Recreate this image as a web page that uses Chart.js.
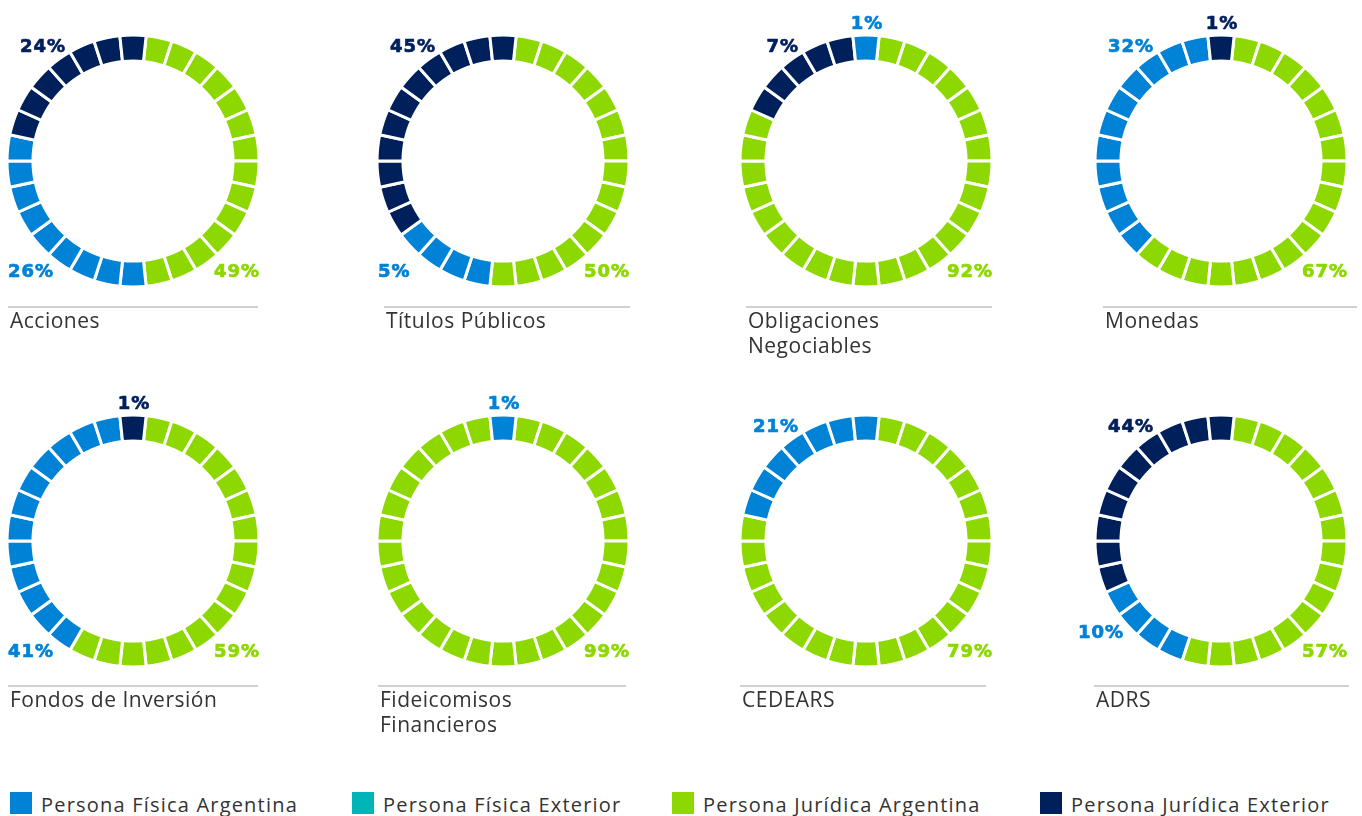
<!DOCTYPE html>
<html lang="es">
<head>
<meta charset="utf-8">
<title>Participación por tipo de inversor</title>
<script src="https://cdn.jsdelivr.net/npm/chart.js@4.4.1/dist/chart.umd.min.js"></script>
<style>
  html, body { margin: 0; padding: 0; background: #fff; }
  body {
    width: 1362px; height: 816px; position: relative; overflow: hidden;
    font-family: "Open Sans", sans-serif; color: #333;
  }
  .anillo { position: absolute; width: 320px; height: 320px; }
  .titulo {
    position: absolute; border-top: 2px solid #d0d0d0;
    font-size: 21px; line-height: 25px; letter-spacing: 0.5px;
    white-space: pre-line; padding-left: 2px;
  }
  .leyenda {
    position: absolute; top: 792px; height: 22px;
    font-size: 20px; line-height: 26px; letter-spacing: 1.2px; white-space: nowrap;
  }
  .leyenda i { position: absolute; left: 0; top: 0; width: 22px; height: 22px; }
</style>
</head>
<body>
<script>
"use strict";

// Datos (% de participación por tipo de inversor)
const categorias = [
  "Acciones", "Títulos Públicos", "Obligaciones\nNegociables", "Monedas",
  "Fondos de Inversión", "Fideicomisos\nFinancieros", "CEDEARS", "ADRS",
];
const series = [
  "Persona Física Argentina", "Persona Física Exterior",
  "Persona Jurídica Argentina", "Persona Jurídica Exterior",
];
const pctFisicaArg   = [26, 5, 1, 32, 41, 1, 21, 10];
const pctFisicaExt   = [0, 0, 0, 0, 0, 0, 0, 0];
const pctJuridicaArg = [49, 50, 92, 67, 59, 99, 79, 57];
const pctJuridicaExt = [24, 45, 7, 1, 1, 0, 0, 44];

// Segmentos (de 30) que pinta cada serie en el anillo
const TOTAL_SEGMENTOS = 30;
const segFisicaArg   = [9, 4, 1, 11, 12, 1, 7, 4];
const segFisicaExt   = [0, 0, 0, 0, 0, 0, 0, 0];
const segJuridicaArg = [14, 15, 24, 18, 17, 29, 23, 16];
const segJuridicaExt = [7, 11, 5, 1, 1, 0, 0, 10];

// Orden horario de las series desde las 12 (índices de `series`)
const ordenAnillo = [
  [2, 0, 1, 3], [2, 0, 1, 3], [2, 3, 1, 0], [2, 0, 1, 3],
  [2, 0, 1, 3], [2, 0, 1, 3], [2, 0, 1, 3], [2, 0, 1, 3],
];

/* ── Estilo y disposición ───────────────────────────── */
const coloresSerie = ["#0083d7", "#00b5b8", "#8dd800", "#00205c"];
const centrosX = [133, 503, 866, 1221];
const centrosY = [161, 541];
// Línea del título: [izquierda, ancho]
const lineasTitulo = [
  [8, 248], [384, 244], [746, 244], [1103, 252],
  [8, 248], [378, 246], [740, 244], [1094, 253],
];
const topesTitulo = [306, 685];
// Ubicación de cada porcentaje, por serie
const anclas = [
  ["bl", "", "br", "tl"], ["bl", "", "br", "tl"], ["top", "", "br", "tl"], ["tl", "", "br", "top"],
  ["bl", "", "br", "top"], ["top", "", "br", ""], ["tl", "", "br", ""], ["l", "", "br", "tl"],
];
const posAncla = {
  tl:  { dx: -67,  dy: -109, align: "right" },
  bl:  { dx: -125, dy: 116,  align: "left" },
  br:  { dx: 127,  dy: 116,  align: "right" },
  top: { dx: 1,    dy: -132, align: "center" },
  l:   { dx: -143, dy: 97,   align: "left" },
};

function porcentajes(i) {
  return [pctFisicaArg[i], pctFisicaExt[i], pctJuridicaArg[i], pctJuridicaExt[i]];
}

function coloresAnillo(i) {
  const segs = [segFisicaArg[i], segFisicaExt[i], segJuridicaArg[i], segJuridicaExt[i]];
  const colores = [], etiquetas = [];
  ordenAnillo[i].forEach((s) => {
    for (let k = 0; k < segs[s]; k++) {
      colores.push(coloresSerie[s]);
      etiquetas.push(series[s]);
    }
  });
  return { colores, etiquetas };
}

function pluginPorcentajes(i) {
  return {
    id: "porcentajes",
    afterDraw(chart) {
      const { ctx } = chart;
      const arco = chart.getDatasetMeta(0).data[0];
      const pcts = porcentajes(i);
      ctx.save();
      ctx.font = "bold 18px 'DejaVu Sans'";
      ctx.letterSpacing = "1px";
      ctx.textBaseline = "alphabetic";
      ctx.lineWidth = 0.7;
      ctx.lineJoin = "round";
      pcts.forEach((p, s) => {
        const a = anclas[i][s];
        if (!a || p <= 0) return;
        const pos = posAncla[a];
        ctx.fillStyle = coloresSerie[s];
        ctx.strokeStyle = coloresSerie[s];
        ctx.textAlign = pos.align;
        ctx.fillText(p + "%", arco.x + pos.dx, arco.y + pos.dy);
        ctx.strokeText(p + "%", arco.x + pos.dx, arco.y + pos.dy);
      });
      ctx.restore();
    },
  };
}

categorias.forEach((cat, i) => {
  const cx = centrosX[i % 4];
  const cy = centrosY[Math.floor(i / 4)];

  const caja = document.createElement("div");
  caja.className = "anillo";
  caja.style.left = (cx - 160) + "px";
  caja.style.top = (cy - 160) + "px";
  const lienzo = document.createElement("canvas");
  lienzo.width = 320;
  lienzo.height = 320;
  caja.appendChild(lienzo);
  document.body.appendChild(caja);

  const { colores, etiquetas } = coloresAnillo(i);

  new Chart(lienzo, {
    type: "doughnut",
    data: {
      labels: etiquetas,
      datasets: [{
        data: new Array(TOTAL_SEGMENTOS).fill(1),
        backgroundColor: colores,
        borderColor: "#ffffff",
        borderWidth: 3,
        hoverBorderWidth: 3,
        hoverOffset: 0,
      }],
    },
    options: {
      responsive: false,
      animation: false,
      events: [],
      rotation: 6,
      cutout: "79.4%",
      layout: { padding: 32.5 },
      plugins: { legend: { display: false }, tooltip: { enabled: false } },
    },
    plugins: [pluginPorcentajes(i)],
  });

  const titulo = document.createElement("div");
  titulo.className = "titulo";
  titulo.style.left = lineasTitulo[i][0] + "px";
  titulo.style.width = lineasTitulo[i][1] + "px";
  titulo.style.top = topesTitulo[Math.floor(i / 4)] + "px";
  titulo.textContent = cat;
  document.body.appendChild(titulo);
});

// Leyenda
const posLeyenda = [10, 352, 672, 1040];
series.forEach((nombre, s) => {
  const item = document.createElement("div");
  item.className = "leyenda";
  item.style.left = posLeyenda[s] + "px";
  item.style.paddingLeft = "31px";
  const cuadro = document.createElement("i");
  cuadro.style.background = coloresSerie[s];
  item.appendChild(cuadro);
  item.appendChild(document.createTextNode(nombre));
  document.body.appendChild(item);
});
</script>
</body>
</html>
